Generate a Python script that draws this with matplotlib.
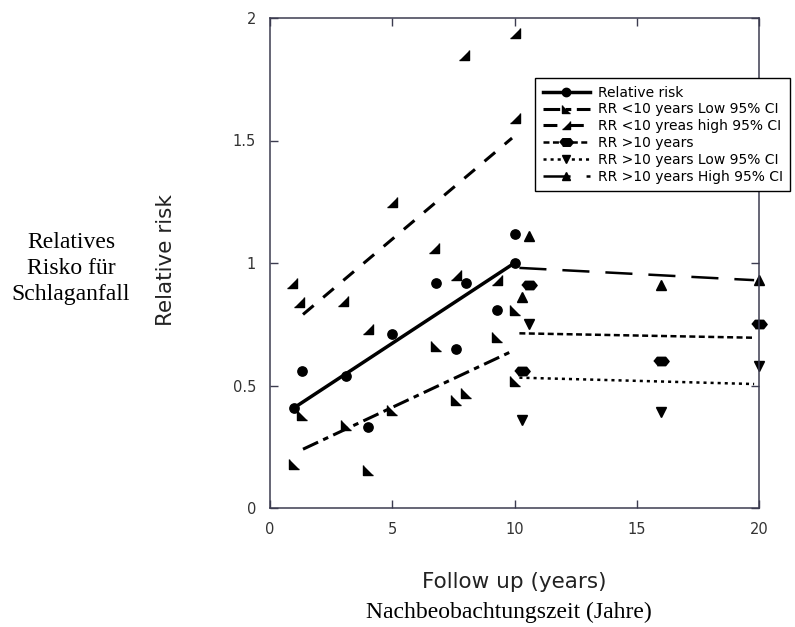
import matplotlib
matplotlib.use("Agg")
import matplotlib.pyplot as plt
from matplotlib.lines import Line2D

plt.rcParams['font.family'] = ['DejaVu Sans']
plt.rcParams['lines.scale_dashes'] = False

# data
rr_x = [1.0, 1.3, 3.1, 4.0, 5.0, 6.8, 7.6, 8.0, 9.3, 10.0, 10.0]
rr_y = [0.41, 0.56, 0.54, 0.33, 0.71, 0.92, 0.65, 0.92, 0.81, 1.0, 1.12]

lo10_x = [1.0, 1.3, 3.1, 4.0, 5.0, 6.8, 7.6, 8.0, 9.3, 10.0, 10.0]
lo10_y = [0.18, 0.38, 0.34, 0.155, 0.40, 0.66, 0.44, 0.47, 0.70, 0.52, 0.81]

hi10_x = [0.9, 1.2, 3.0, 4.0, 5.0, 6.7, 7.6, 7.95, 9.3, 10.0, 10.0]
hi10_y = [0.92, 0.84, 0.845, 0.73, 1.25, 1.06, 0.95, 1.85, 0.93, 1.59, 1.94]

gt_x = [10.3, 10.6, 16.0, 20.0]
gt_y = [0.56, 0.91, 0.60, 0.75]
gt_lo_y = [0.36, 0.75, 0.39, 0.58]
gt_lo_x = [10.3, 10.6, 16.0, 20.0]
gt_hi_x = [10.3, 10.6, 16.0, 20.0]
gt_hi_y = [0.86, 1.11, 0.91, 0.93]

# fitted lines (end points)
rr_fit_x, rr_fit_y = [1.0, 10.0], [0.41, 1.0]
lo10_fit_x, lo10_fit_y = [1.35, 9.9], [0.24, 0.64]
hi10_fit_x, hi10_fit_y = [1.35, 9.9], [0.79, 1.51]
gt_fit_x, gt_fit_y = [10.2, 19.8], [0.713, 0.695]
gt_lo_fit_x, gt_lo_fit_y = [10.2, 19.8], [0.532, 0.506]
gt_hi_fit_x, gt_hi_fit_y = [10.2, 19.8], [0.98, 0.93]

labels = ['Relative risk', 'RR <10 years Low 95% CI', 'RR <10 yreas high 95% CI',
          'RR >10 years', 'RR >10 years Low 95% CI', 'RR >10 years High 95% CI']
xticks = [0, 5, 10, 15, 20]
yticks = [0, 0.5, 1, 1.5, 2]
ytick_labels = ['0', '0.5', '1', '1.5', '2']

tri_ll = [(-1, 1), (-1, -1), (1, -1)]   # lower-left right triangle
tri_lr = [(1, 1), (1, -1), (-1, -1)]    # lower-right right triangle
hexa = [(-1, 0), (-0.55, 0.55), (0.55, 0.55), (1, 0), (0.55, -0.55), (-0.55, -0.55)]

styles = [
    dict(ls='-', lw=2.5, marker='o', ms=6.7),
    dict(ls=(0, (12, 4, 4, 4)), lw=2.2, marker=tri_ll, ms=6.5),
    dict(ls=(0, (10, 9)), lw=2.2, marker=tri_lr, ms=6.5),
    dict(ls=(0, (4.3, 2.5)), lw=1.8, marker=hexa, ms=11),
    dict(ls=(0, (2.2, 2.9)), lw=1.8, marker='v', ms=6.5),
    dict(ls=(0, (19.5, 11.5)), lw=1.8, marker='^', ms=6.5),
]
points = [(rr_x, rr_y), (lo10_x, lo10_y), (hi10_x, hi10_y),
          (gt_x, gt_y), (gt_lo_x, gt_lo_y), (gt_hi_x, gt_hi_y)]
fits = [(rr_fit_x, rr_fit_y), (lo10_fit_x, lo10_fit_y), (hi10_fit_x, hi10_fit_y),
        (gt_fit_x, gt_fit_y), (gt_lo_fit_x, gt_lo_fit_y), (gt_hi_fit_x, gt_hi_fit_y)]

W, H = 795, 627
fig = plt.figure(figsize=(W / 100, H / 100), dpi=100)
ax = fig.add_axes([270 / W, 1 - 508 / H, 489 / W, 490 / H])

handles = []
for st, (px, py), (fx, fy) in zip(styles, points, fits):
    ax.plot(fx, fy, color='black', linestyle=st['ls'], lw=st['lw'], solid_capstyle='butt',
            dash_capstyle='butt')
    ax.plot(px, py, linestyle='none', marker=st['marker'], ms=st['ms'], color='black',
            clip_on=False)
    handles.append(Line2D([], [], color='black', linestyle=st['ls'], lw=st['lw'],
                          marker=st['marker'], ms=st['ms'] * 0.9))

ax.set_xlim(0, 20)
ax.set_ylim(0, 2)
ax.set_xticks(xticks)
ax.set_yticks(yticks)
ax.set_yticklabels(ytick_labels)
spine_col = '#3c3c50'
for s in ax.spines.values():
    s.set_color(spine_col)
    s.set_linewidth(1.1)
ax.tick_params(direction='in', top=True, right=True, length=6, width=1,
               color=spine_col, labelsize=10.5, labelcolor='#333333', pad=10)

fig.text(166 / W, 1 - 260 / H, 'Relative risk', rotation=90, ha='center', va='center',
         fontsize=15.5, color='#222222')
fig.text(514 / W, 1 - 588 / H, 'Follow up (years)', ha='center', va='baseline',
         fontsize=15.5, color='#222222')

serif = dict(family='Liberation Serif', fontsize=17, color='black', ha='center', va='baseline')
fig.text(509 / W, 1 - 618 / H, 'Nachbeobachtungszeit (Jahre)', **serif)
for txt, base in zip(['Relatives', 'Risko für', 'Schlaganfall'], [248, 274, 300]):
    fig.text(71 / W, 1 - base / H, txt, **serif)

leg = ax.legend(handles, labels, loc='upper left', bbox_to_anchor=(535 / W, 1 - 78 / H),
                bbox_transform=fig.transFigure, borderaxespad=0, fontsize=10,
                handlelength=3.4, handletextpad=0.55, borderpad=0.55, labelspacing=0.2,
                numpoints=1, fancybox=False, framealpha=1, edgecolor='black')
leg.get_frame().set_linewidth(1.0)

fig.savefig('out.png', dpi=100)
